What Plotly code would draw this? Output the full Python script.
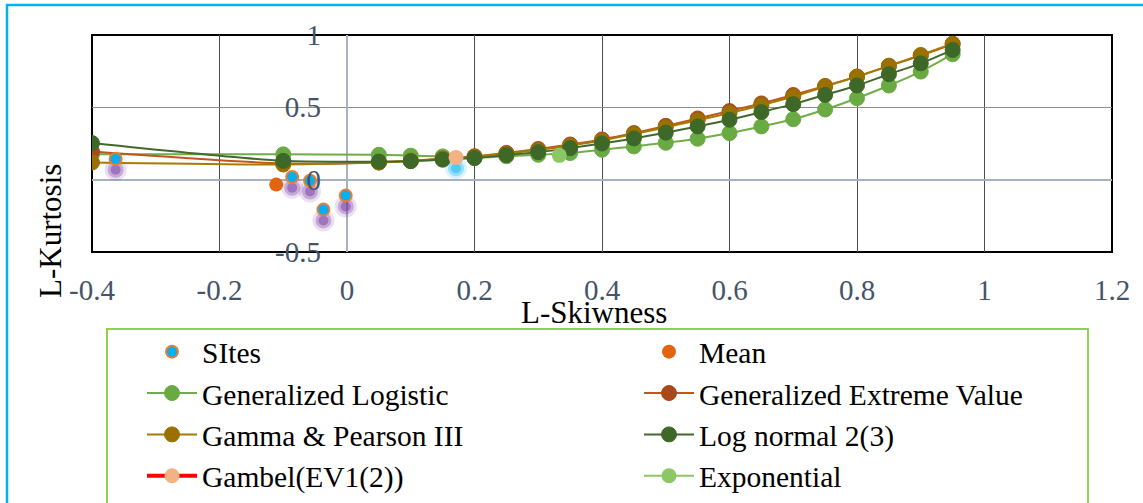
import plotly.graph_objects as go

# ---------------- data ----------------
tau3 = [-0.4, -0.1, 0.05, 0.1, 0.15, 0.2, 0.25, 0.3, 0.35, 0.4, 0.45, 0.5,
        0.55, 0.6, 0.65, 0.7, 0.75, 0.8, 0.85, 0.9, 0.95]
gen_logistic = [0.175, 0.175, 0.172, 0.166, 0.161, 0.152, 0.162, 0.172, 0.184, 0.207, 0.230,
                0.255, 0.283, 0.322, 0.368, 0.418, 0.485, 0.563, 0.651, 0.747, 0.867]
gen_extreme = [0.195, 0.112, 0.118, 0.130, 0.146, 0.162, 0.185, 0.212, 0.243, 0.278, 0.322,
               0.372, 0.423, 0.474, 0.527, 0.585, 0.648, 0.712, 0.785, 0.858, 0.938]
gamma_p3 = [0.119, 0.105, 0.120, 0.130, 0.143, 0.157, 0.180, 0.205, 0.235, 0.270, 0.315,
            0.362, 0.410, 0.460, 0.515, 0.575, 0.644, 0.713, 0.788, 0.862, 0.940]
log_normal = [0.253, 0.130, 0.125, 0.128, 0.138, 0.149, 0.170, 0.190, 0.218, 0.250, 0.285,
              0.325, 0.368, 0.414, 0.467, 0.522, 0.586, 0.651, 0.729, 0.804, 0.897]

sites_x = [-0.363, -0.086, -0.058, -0.037, -0.002]
sites_y = [0.143, 0.019, -0.007, -0.207, -0.110]
mean_x = [-0.111]
mean_y = [-0.034]
gumbel_x = [0.171]
gumbel_y = [0.154]
expo_x = [0.333]
expo_y = [0.168]

x_ticks = [-0.4, -0.2, 0, 0.2, 0.4, 0.6, 0.8, 1, 1.2]
y_ticks = [-0.5, 0, 0.5, 1]

SHADOW_DY = 0.075  # visual drop-shadow offset (in y units)

FONT = "Liberation Serif, Times New Roman, serif"

fig = go.Figure()

# shadows (no legend)
for sz, op in [(22, 0.15), (16, 0.3), (10, 0.45)]:
    fig.add_trace(go.Scatter(
        x=sites_x, y=[v - SHADOW_DY for v in sites_y], mode="markers",
        marker=dict(size=sz, color="#7030A0", opacity=op, line=dict(width=0)),
        showlegend=False, hoverinfo="skip"))
    fig.add_trace(go.Scatter(
        x=gumbel_x, y=[v - SHADOW_DY for v in gumbel_y], mode="markers",
        marker=dict(size=sz, color="#00B0F0", opacity=op, line=dict(width=0)),
        showlegend=False, hoverinfo="skip"))

def curve(name, ys, lcol, mcol, rank):
    fig.add_trace(go.Scatter(
        x=tau3, y=ys, name=name, mode="lines+markers",
        line=dict(color=lcol, width=2, shape="spline", smoothing=0.8),
        marker=dict(size=15, color=mcol, line=dict(width=1, color=mcol)),
        legendrank=rank))

curve("Generalized Logistic", gen_logistic, "#70AD47", "#69AB42", 3)
curve("Generalized Extreme Value", gen_extreme, "#C0561C", "#A9481A", 4)
curve("Gamma & Pearson III", gamma_p3, "#A67C00", "#9A7000", 5)
curve("Log normal 2(3)", log_normal, "#43682B", "#3E6828", 6)

fig.add_trace(go.Scatter(
    x=gumbel_x, y=gumbel_y, name="Gambel(EV1(2))", mode="lines+markers",
    line=dict(color="#FF0000", width=4),
    marker=dict(size=15, color="#F4B183", line=dict(width=0)), legendrank=7))
fig.add_trace(go.Scatter(
    x=expo_x, y=expo_y, name="Exponential", mode="lines+markers",
    line=dict(color="#8BC765", width=2),
    marker=dict(size=15, color="#8BC765", line=dict(width=0)), legendrank=8))

fig.add_trace(go.Scatter(
    x=sites_x, y=sites_y, name="SItes", mode="markers",
    marker=dict(size=12, color="#00B0F0", line=dict(width=2, color="#ED7D31")),
    legendrank=1))
fig.add_trace(go.Scatter(
    x=mean_x, y=mean_y, name="Mean", mode="markers",
    marker=dict(size=14, color="#E2640F", line=dict(width=0)), legendrank=2))

W, H = 1143, 503
L, R, T, B = 92, 31, 35, 251
pw, ph = W - L - R, H - T - B

def px_x(px):
    return (px - L) / pw

def px_y(py):
    return (H - B - py) / ph

fig.update_layout(
    width=W, height=H,
    margin=dict(l=L, r=R, t=T, b=B, autoexpand=False),
    paper_bgcolor="white", plot_bgcolor="white",
    font=dict(family=FONT, size=29, color="black"),
    xaxis=dict(range=[-0.4, 1.2], tickvals=x_ticks, ticktext=[f"{v:g}" for v in x_ticks],
               showgrid=True, gridcolor="#4D4D4D", gridwidth=1,
               zeroline=True, zerolinecolor="#A7B1C2", zerolinewidth=2,
               showline=False, ticks="", ticklabelstandoff=18,
               tickfont=dict(family=FONT, size=29, color="#44546A")),
    yaxis=dict(range=[-0.5, 1], tickvals=y_ticks, ticktext=[f"{v:g}" for v in y_ticks],
               showgrid=True, gridcolor="#8C8C8C", gridwidth=1,
               zeroline=True, zerolinecolor="#A7B1C2", zerolinewidth=2,
               showline=False, ticks="", anchor="free", position=px_x(321),
               tickfont=dict(family=FONT, size=29, color="#44546A")),
    legend=dict(orientation="h", xref="container", yref="container",
                x=142 / W, y=1 - 326 / H, xanchor="left", yanchor="top",
                entrywidth=432, entrywidthmode="pixels", itemwidth=50,
                font=dict(family=FONT, size=29.5, color="black"),
                bgcolor="rgba(0,0,0,0)", borderwidth=0, traceorder="normal",
                tracegroupgap=0),
    showlegend=True,
    shapes=[
        dict(type="rect", xref="paper", yref="paper", x0=0, x1=1, y0=0, y1=1,
             line=dict(color="black", width=2), layer="between"),
        dict(type="rect", xref="paper", yref="paper", x0=px_x(7), x1=px_x(1160),
             y0=px_y(520), y1=px_y(5), line=dict(color="#00B0F0", width=2.5), layer="above"),
        dict(type="rect", xref="paper", yref="paper", x0=px_x(107), x1=px_x(1088),
             y0=px_y(520), y1=px_y(329), line=dict(color="#92D050", width=2), layer="above"),
    ],
    annotations=[
        dict(text="L-Kurtosis", xref="paper", yref="paper", x=px_x(50), y=px_y(231),
             textangle=-90, showarrow=False, xanchor="center", yanchor="middle",
             font=dict(family=FONT, size=31, color="black")),
        dict(text="L-Skiwness", xref="paper", yref="paper", x=px_x(594), y=px_y(312),
             showarrow=False, xanchor="center", yanchor="middle",
             font=dict(family=FONT, size=31, color="black")),
    ],
)

fig.write_html("out.html")
